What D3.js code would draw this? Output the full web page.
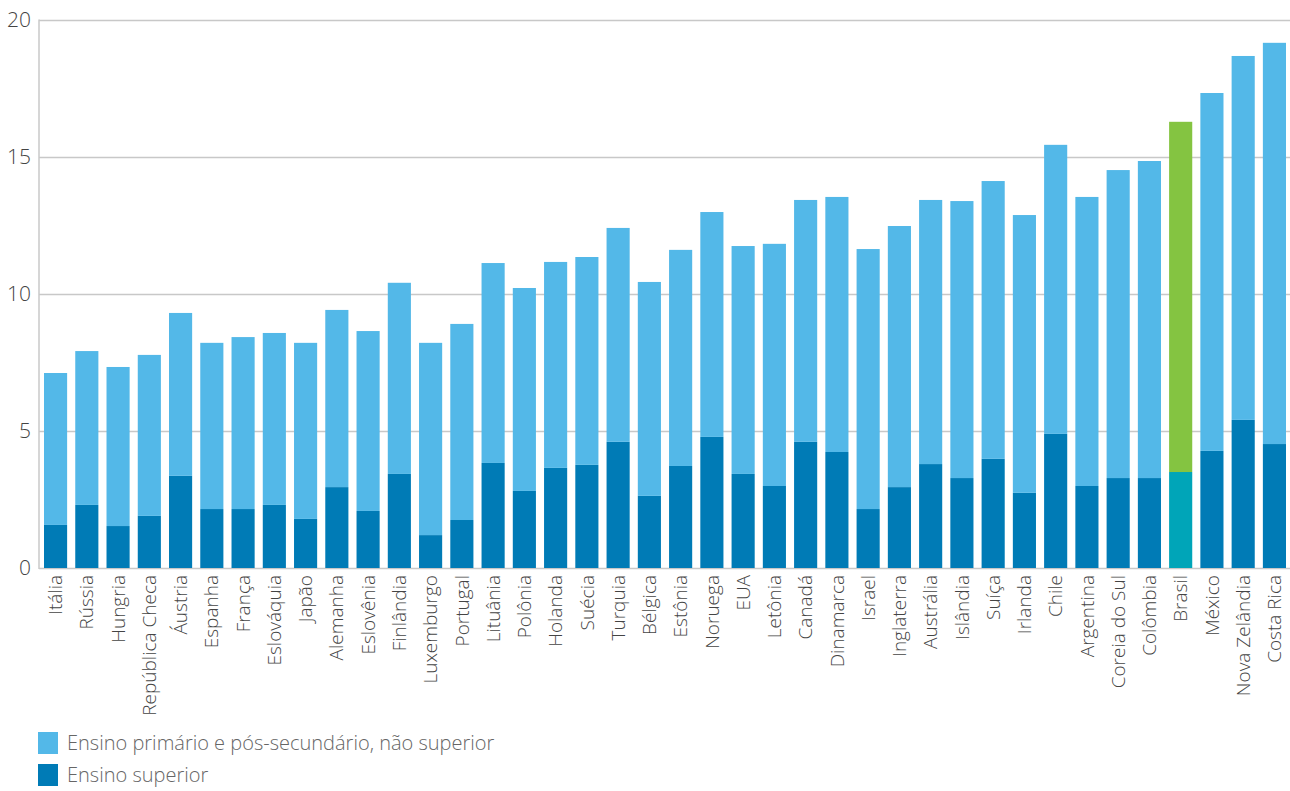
<!DOCTYPE html>
<html>
<head>
<meta charset="utf-8">
<script src="https://cdn.jsdelivr.net/npm/d3@7"></script>
<style>
  html, body { margin: 0; padding: 0; background: #fff; }
  svg { display: block; font-family: "Open Sans", "Noto Sans", sans-serif; }
</style>
</head>
<body>
<svg id="chart" width="1290" height="791"></svg>
<script>
const countries = ["Itália","Rússia","Hungria","República Checa","Áustria","Espanha","França","Eslováquia","Japão","Alemanha","Eslovênia","Finlândia","Luxemburgo","Portugal","Lituânia","Polônia","Holanda","Suécia","Turquia","Bélgica","Estônia","Noruega","EUA","Letônia","Canadá","Dinamarca","Israel","Inglaterra","Austrália","Islândia","Suíça","Irlanda","Chile","Argentina","Coreia do Sul","Colômbia","Brasil","México","Nova Zelândia","Costa Rica"];
// Ensino superior (bottom segment)
const superior = [1.57,2.30,1.53,1.90,3.36,2.15,2.15,2.30,1.79,2.95,2.08,3.43,1.20,1.75,3.83,2.81,3.65,3.76,4.60,2.63,3.72,4.78,3.43,2.99,4.60,4.23,2.15,2.95,3.79,3.28,3.98,2.74,4.89,2.99,3.28,3.28,3.50,4.27,5.40,4.52];
// Total height of each bar (superior + não superior)
const totals = [7.11,7.91,7.33,7.77,9.30,8.21,8.42,8.57,8.21,9.41,8.64,10.40,8.21,8.90,11.12,10.21,11.16,11.34,12.40,10.43,11.60,12.98,11.74,11.82,13.42,13.53,11.63,12.47,13.42,13.38,14.11,12.87,15.43,13.53,14.51,14.84,16.27,17.32,18.67,19.15];
const naoSuperior = totals.map((t, i) => +(t - superior[i]).toFixed(2));
const yTicks = [0, 5, 10, 15, 20];
const seriesNames = ["Ensino primário e pós-secundário, não superior", "Ensino superior"];
const highlight = "Brasil";

const colors = {
  nao: "#53b8e8", sup: "#007bb6",
  naoHi: "#84c441", supHi: "#00a5b8",
  grid: "#c8c8c8", text: "#444", legend: "#666"
};

const svg = d3.select("#chart");
const plotLeft = 39, plotRight = 1291, plotTop = 19.5, plotBottom = 568;

const x = d3.scaleBand().domain(countries).range([plotLeft, plotRight]).paddingInner(0.26).paddingOuter(0.16);
const y = d3.scaleLinear().domain([0, 20]).range([plotBottom, plotTop]);

// gridlines
svg.append("g").selectAll("line").data(yTicks).join("line")
  .attr("x1", plotLeft).attr("x2", 1290)
  .attr("y1", d => Math.round(y(d)) + 0.5).attr("y2", d => Math.round(y(d)) + 0.5)
  .attr("stroke", colors.grid).attr("stroke-width", 1.5);

// y axis line
svg.append("line").attr("x1", plotLeft).attr("x2", plotLeft).attr("y1", y(20)).attr("y2", y(0) + 1)
  .attr("stroke", colors.grid).attr("stroke-width", 1.5);

// y tick labels via axis
const yAxis = d3.axisLeft(y).tickValues(yTicks).tickSize(0).tickPadding(8);
const yg = svg.append("g").attr("transform", `translate(${plotLeft},0)`).call(yAxis);
yg.select(".domain").remove();
yg.selectAll("text").attr("font-size", 21).attr("font-weight", 300).attr("fill", colors.text)
  .attr("font-family", "'Open Sans', sans-serif");

// bars
const g = svg.append("g");
countries.forEach((c, i) => {
  const hi = c === highlight;
  g.append("rect")
    .attr("x", x(c)).attr("width", x.bandwidth())
    .attr("y", y(superior[i])).attr("height", y(0) - y(superior[i]))
    .attr("fill", hi ? colors.supHi : colors.sup);
  g.append("rect")
    .attr("x", x(c)).attr("width", x.bandwidth())
    .attr("y", y(superior[i] + naoSuperior[i])).attr("height", y(superior[i]) - y(superior[i] + naoSuperior[i]))
    .attr("fill", hi ? colors.naoHi : colors.nao);
});

// x labels
const xAxis = d3.axisBottom(x).tickSize(0).tickPadding(0);
const xg = svg.append("g").attr("transform", `translate(0,${plotBottom})`).call(xAxis);
xg.select(".domain").remove();
xg.selectAll("text")
  .attr("transform", "rotate(-90)")
  .attr("text-anchor", "end")
  .attr("x", -7).attr("y", 0).attr("dy", "0.35em")
  .attr("font-size", 19).attr("font-weight", 300).attr("fill", colors.text)
  .attr("font-family", "'Open Sans', sans-serif");

// legend
const legend = svg.append("g");
const legColors = [colors.nao, colors.sup];
seriesNames.forEach((s, i) => {
  const yy = 732 + i * 32;
  legend.append("rect").attr("x", 38).attr("y", yy).attr("width", 20).attr("height", 22).attr("fill", legColors[i]);
  legend.append("text").attr("x", 67).attr("y", yy + 11).attr("dy", "0.35em")
    .attr("font-size", 20).attr("font-weight", 300).attr("fill", colors.legend).text(s);
});
</script>
</body>
</html>
